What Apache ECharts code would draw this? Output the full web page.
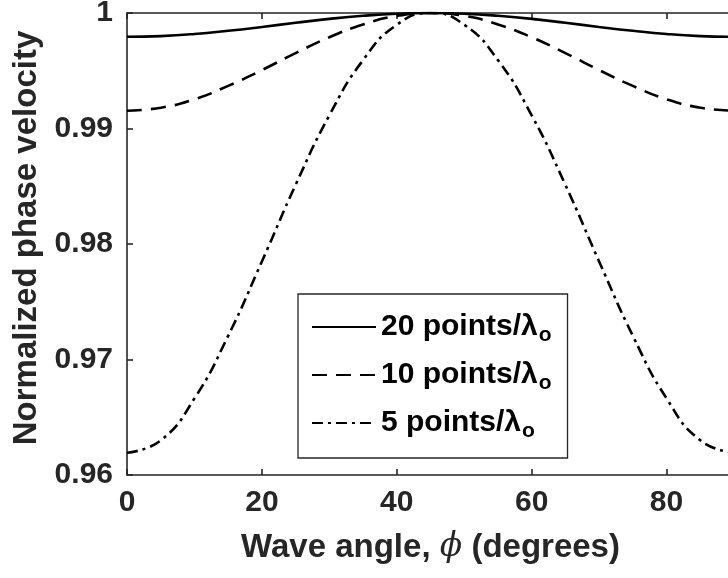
<!DOCTYPE html>
<html>
<head>
<meta charset="utf-8">
<script src="https://cdn.jsdelivr.net/npm/echarts@6/dist/echarts.min.js"></script>
<style>
html,body{margin:0;padding:0;background:#fff;}
#chart{width:728px;height:578px;}
</style>
</head>
<body>
<div id="chart"></div>
<script>
// Wave angle (degrees)
const angles = [0,5,10,15,20,25,30,35,40,45,50,55,60,65,70,75,80,85,90];
// Normalized phase velocity
const v20 = [0.99794,0.99800,0.99818,0.99846,0.99879,0.99915,0.99949,0.99976,0.99994,1.00000,
             0.99994,0.99976,0.99949,0.99915,0.99879,0.99846,0.99818,0.99800,0.99794];
const v10 = [0.99154,0.99180,0.99253,0.99369,0.99506,0.99653,0.99790,0.99901,0.99975,1.00000,
             0.99975,0.99901,0.99790,0.99653,0.99506,0.99369,0.99253,0.99180,0.99154];
const v5  = [0.96193,0.96300,0.96663,0.97205,0.97849,0.98512,0.99114,0.99592,0.99898,1.00000,
             0.99898,0.99592,0.99114,0.98512,0.97849,0.97205,0.96663,0.96300,0.96193];
const seriesNames = ['20 points/λ','10 points/λ','5 points/λ'];
const xTitle = ['Wave angle, ','ϕ',' (degrees)'];
const yTitle = 'Normalized phase velocity';

const FONT = '"Liberation Sans", Arial, sans-serif';
const AX = '#262626';

function pairs(ys){ return angles.map((a,i)=>[a, ys[i]]); }

const axisCommon = {
  axisLine:{show:true, onZero:false, lineStyle:{color:AX, width:1.6}},
  axisTick:{show:true, inside:true, length:6, lineStyle:{color:AX, width:1.6}},
  splitLine:{show:false}
};

const chart = echarts.init(document.getElementById('chart'), null, {renderer:'canvas'});
chart.setOption({
  animation:false,
  backgroundColor:'#fff',
  grid:{left:127, top:13, right:-6, bottom:103, containLabel:false, outerBoundsMode:'none'},
  legend:{
    orient:'vertical',
    left:298, top:294,
    padding:[18,16,16,13],
    borderColor:AX, borderWidth:1.3,
    backgroundColor:'#fff',
    itemWidth:64, itemHeight:14, itemGap:14,
    itemStyle:{opacity:0},
    data:seriesNames,
    formatter:function(n){ return '{a|'+n+'}{s|o}'; },
    textStyle:{
      color:'#000',
      rich:{
        a:{fontSize:30, fontWeight:'bold', fontFamily:FONT, color:'#000'},
        s:{fontSize:21, fontWeight:'bold', fontFamily:FONT, color:'#000', padding:[17,0,0,1]}
      }
    }
  },
  xAxis:[
    Object.assign({}, axisCommon, {
      type:'value', position:'bottom', min:0, max:90, interval:20,
      axisLabel:{fontSize:30, fontWeight:'bold', fontFamily:FONT, color:AX, margin:13, showMaxLabel:false,
        formatter:function(v){ return v===90 ? '' : String(v); }},
      name:'{a|'+xTitle[0]+'}{b|'+xTitle[1]+'}{a|'+xTitle[2]+'}',
      nameLocation:'middle', nameGap:56,
      nameTextStyle:{rich:{
        a:{fontSize:33, fontWeight:'bold', fontFamily:FONT, color:AX},
        b:{fontSize:33, fontWeight:'normal', fontStyle:'italic', fontFamily:'"DejaVu Serif", serif', color:AX}
      }}
    }),
    Object.assign({}, axisCommon, {
      type:'value', position:'top', min:0, max:90, interval:20,
      axisLabel:{show:false}
    })
  ],
  yAxis:[
    Object.assign({}, axisCommon, {
      type:'value', position:'left', min:0.96, max:1, interval:0.01,
      axisLabel:{fontSize:30, fontWeight:'bold', fontFamily:FONT, color:AX, margin:14,
        formatter:function(v){ const s = (+v).toFixed(2); return s==='1.00' ? '1' : s; }},
      name:yTitle, nameLocation:'middle', nameGap:84,
      nameTextStyle:{fontSize:33, fontWeight:'bold', fontFamily:FONT, color:AX, padding:[0,0,0,12]}
    }),
    Object.assign({}, axisCommon, {
      type:'value', position:'right', min:0.96, max:1, interval:0.01,
      axisLabel:{show:false}
    })
  ],
  series:[
    {name:seriesNames[0], type:'line', data:pairs(v20), smooth:true, symbol:'none',
     lineStyle:{color:'#000', width:2.6, type:'solid'}, itemStyle:{color:'#000'}},
    {name:seriesNames[1], type:'line', data:pairs(v10), smooth:true, symbol:'none',
     lineStyle:{color:'#000', width:2.6, type:[15,9]}, itemStyle:{color:'#000'}},
    {name:seriesNames[2], type:'line', data:pairs(v5), smooth:true, symbol:'none',
     lineStyle:{color:'#000', width:2.6, type:[11,5,3,5]}, itemStyle:{color:'#000'}}
  ]
});
</script>
</body>
</html>
